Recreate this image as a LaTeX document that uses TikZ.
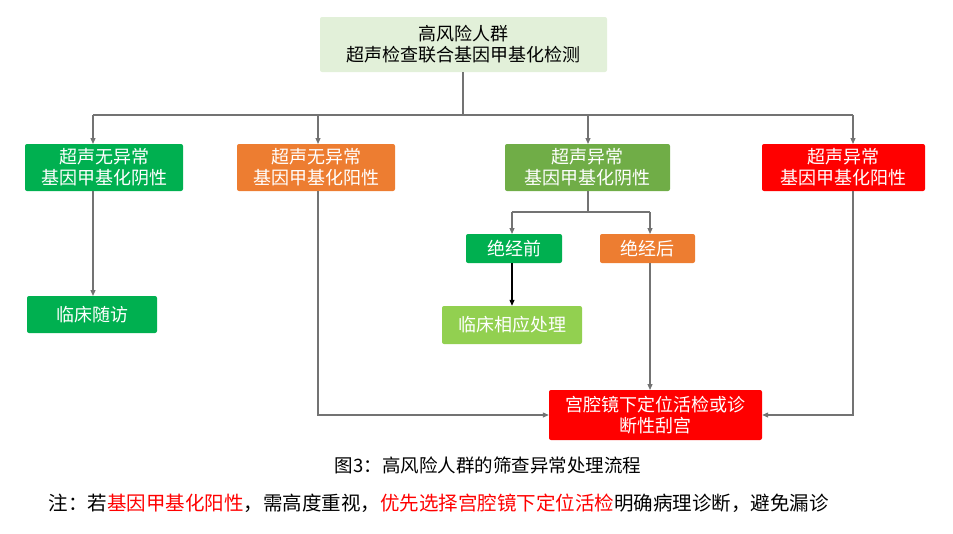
\documentclass[tikz,border=0pt]{standalone}
\usepackage{fontspec}
\setmainfont{Noto Sans CJK SC}
\usetikzlibrary{arrows.meta}
\definecolor{gA}{HTML}{00B050}
\definecolor{oA}{HTML}{ED7D31}
\definecolor{lA}{HTML}{70AD47}
\definecolor{lB}{HTML}{92D050}
\definecolor{rA}{HTML}{FF0000}
\definecolor{tp}{HTML}{E2F0D9}
\begin{document}
\begin{tikzpicture}[x=1pt,y=-1pt,
 box/.style={draw=none,rounded corners=2pt,text=white,align=center,font=\fontsize{18}{21}\selectfont,inner sep=0pt},
 ln/.style={draw=gray!90!black,line width=1.2pt},
 ar/.style={ln,-{Triangle[length=6pt,width=5pt]}}]
\useasboundingbox (0,0) rectangle (953,533);
\node[box,fill=tp,text=black,minimum width=287,minimum height=55] (top) at (463.5,44.5) {高风险人群\\超声检查联合基因甲基化检测};
\node[box,fill=gA,minimum width=158,minimum height=47] (b1) at (104,167.5) {超声无异常\\基因甲基化阴性};
\node[box,fill=oA,minimum width=158,minimum height=47] (b2) at (316,167.5) {超声无异常\\基因甲基化阳性};
\node[box,fill=lA,minimum width=165,minimum height=47] (b3) at (587.5,167.5) {超声异常\\基因甲基化阴性};
\node[box,fill=rA,minimum width=163,minimum height=47] (b4) at (843.5,167.5) {超声异常\\基因甲基化阳性};
\node[box,fill=gA,minimum width=96,minimum height=29] (pre) at (514,248.5) {绝经前};
\node[box,fill=oA,minimum width=95,minimum height=29] (post) at (647.5,248.5) {绝经后};
\node[box,fill=lB,minimum width=140,minimum height=38] (lc) at (512,325) {临床相应处理};
\node[box,fill=gA,minimum width=130,minimum height=37] (sf) at (92,314.5) {临床随访};
\node[box,fill=rA,minimum width=213,minimum height=50] (gq) at (655.5,415) {宫腔镜下定位活检或诊\\断性刮宫};
\coordinate (h) at (463,115);
\draw[ln] (463,72) -- (h);
\draw[ln] (93,115) -- (853,115);
\draw[ar] (93,115) -- (93,144);
\draw[ar] (318,115) -- (318,144);
\draw[ar] (588,115) -- (588,144);
\draw[ar] (853,115) -- (853,144);
\draw[ar] (93,191) -- (93,296);
\draw[ln] (588,191) -- (588,212);
\draw[ln] (512,212) -- (650,212);
\draw[ar] (512,212) -- (512,234);
\draw[ar] (650,212) -- (650,234);
\draw[black,line width=1.2pt,-{Triangle[length=6pt,width=5pt]}] (512,263) -- (lc.north);
\draw[ar] (318,191) |- (gq.west);
\draw[ar] (650,263) -- (650,390);
\draw[ar] (853,191) |- (gq.east);
\node[font=\fontsize{18.5}{21}\selectfont] (cap) at (488,465) {图3：高风险人群的筛查异常处理流程};
\node[font=\fontsize{19.5}{22}\selectfont,anchor=west] (note) at (45,503) {注：若\textcolor{rA}{基因甲基化阳性}，需高度重视，\textcolor{rA}{优先选择宫腔镜下定位活检}明确病理诊断，避免漏诊};
\end{tikzpicture}
\end{document}
